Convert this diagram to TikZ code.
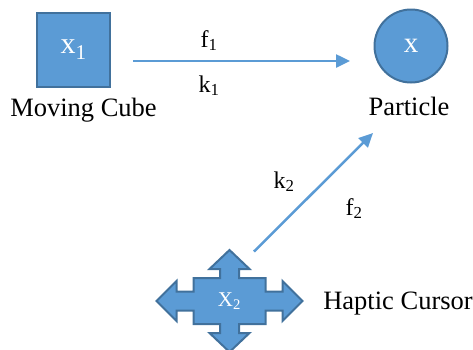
\documentclass[tikz,border=0pt]{standalone}
\usepackage{fontspec}
\setmainfont{Liberation Serif}
\usepackage{tikz}
\usetikzlibrary{arrows.meta}
\pgfdeclarelayer{edgelayer}
\pgfdeclarelayer{nodelayer}
\pgfsetlayers{edgelayer,nodelayer,main}
\definecolor{shapeblue}{RGB}{91,155,213}
\definecolor{rimblue}{RGB}{65,113,156}
\tikzstyle{cube}=[rectangle, fill=shapeblue, draw=rimblue, line width=2pt, minimum width=73pt, minimum height=74pt, text=white, font=\fontsize{30}{30}\selectfont]
\tikzstyle{particle}=[circle, fill=shapeblue, draw=rimblue, line width=2pt, minimum size=73pt, text=white, font=\fontsize{29}{29}\selectfont]
\tikzstyle{cursor}=[fill=shapeblue, draw=rimblue, line width=2pt, line join=miter]
\tikzstyle{inlabel}=[text=white, font=\fontsize{21}{21}\selectfont]
\tikzstyle{caption}=[anchor=base, inner sep=0pt, font=\fontsize{26.5}{26.5}\selectfont]
\tikzstyle{weight}=[anchor=base, inner sep=0pt, font=\fontsize{24}{24}\selectfont]
\tikzstyle{edge}=[draw=shapeblue, line width=2.5pt, -{Triangle[length=14pt,width=13pt]}]

\begin{document}
\begin{tikzpicture}[x=1pt, y=-1pt]
					\clip (0, 0) rectangle (473, 349);
					\begin{pgfonlayer}{nodelayer}
						\node [style=cube] (1) at (73.5, 49.5) {x\textsubscript{1}};
						\node [style=caption] (2) at (83.5, 116) {Moving Cube};
						\node [style=particle] (3) at (411, 46) {x};
						\node [style=caption] (4) at (409, 115) {Particle};
						\begin{scope}[shift={(229.5, 301)}]
							\draw [style=cursor] (0, -51) -- (20, -32) -- (9.5, -32) -- (9.5, -23) -- (36, -23) -- (36, -9.5)
								-- (53, -9.5) -- (53, -20) -- (73, 0) -- (53, 20) -- (53, 9.5) -- (36, 9.5) -- (36, 23)
								-- (9.5, 23) -- (9.5, 32) -- (20, 32) -- (0, 51) -- (-20, 32) -- (-9.5, 32) -- (-9.5, 23)
								-- (-36, 23) -- (-36, 9.5) -- (-53, 9.5) -- (-53, 20) -- (-73, 0) -- (-53, -20) -- (-53, -9.5)
								-- (-36, -9.5) -- (-36, -23) -- (-9.5, -23) -- (-9.5, -32) -- (-20, -32) -- cycle;
							\node [style=inlabel] (5) at (0, 0) {X\textsubscript{2}};
						\end{scope}
						\node [style=caption] (6) at (398, 309) {Haptic Cursor};
						\node [style=weight] (7) at (209, 47) {f\textsubscript{1}};
						\node [style=weight] (8) at (209, 92) {k\textsubscript{1}};
						\node [style=weight] (9) at (284, 188) {k\textsubscript{2}};
						\node [style=weight] (10) at (354, 215) {f\textsubscript{2}};
					\end{pgfonlayer}
					\begin{pgfonlayer}{edgelayer}
						\coordinate (11) at (133, 61);
						\coordinate (12) at (350, 61);
						\coordinate (13) at (254, 251.5);
						\coordinate (14) at (373, 133);
						\draw [style=edge] (11) to (12);
						\draw [style=edge] (13) to (14);
					\end{pgfonlayer}
				\end{tikzpicture}
\end{document}
